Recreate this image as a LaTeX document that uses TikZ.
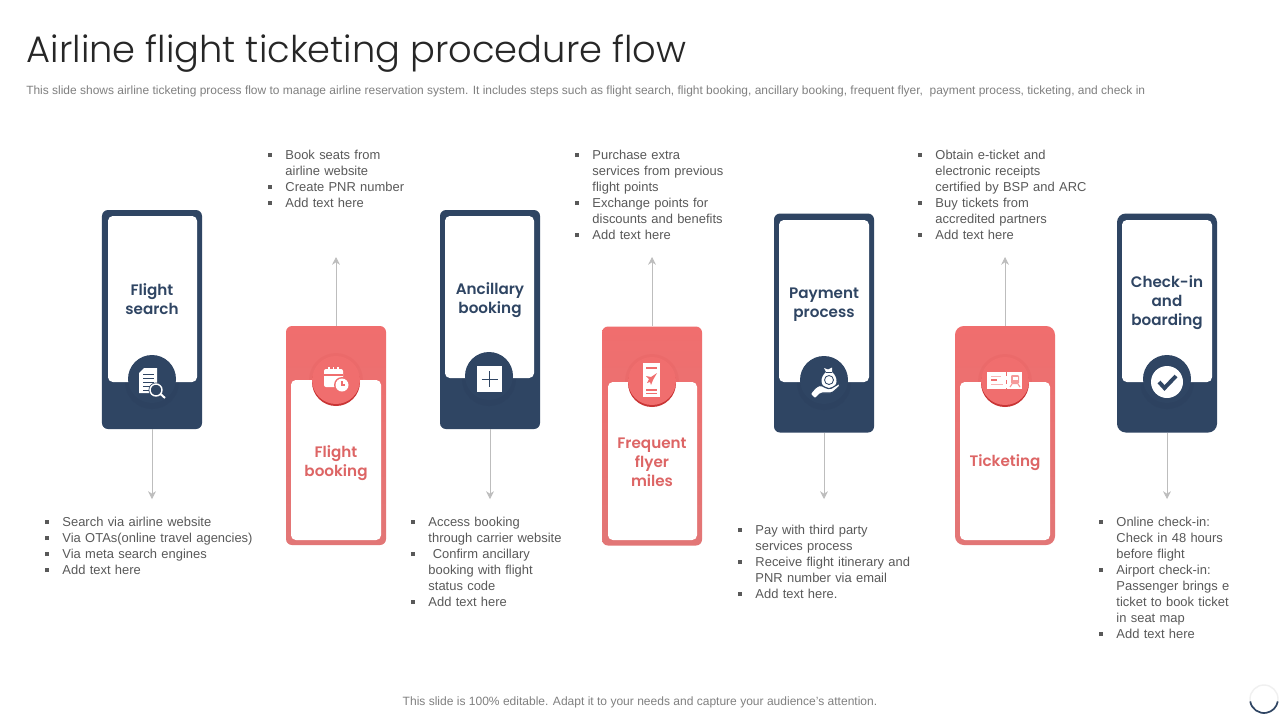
\documentclass[tikz,border=0pt]{standalone}
\usepackage{fontspec}
\setmainfont{Liberation Sans}
\newfontfamily\headfont{Poppins Light}
\newfontfamily\cardfont{Poppins SemiBold}
\usetikzlibrary{arrows.meta}
\definecolor{navy}{HTML}{2F4563}
\definecolor{navydark}{HTML}{2D4260}
\definecolor{salmon}{HTML}{F06E6E}
\definecolor{salmonlow}{HTML}{E27676}
\definecolor{salmondark}{HTML}{C93535}
\definecolor{pfeilgray}{HTML}{BDBDBD}
\definecolor{bodygray}{HTML}{595959}
\tikzset{%
		navycard/.style={rectangle,fill=navy,rounded corners=1.5mm,minimum width=25mm,minimum height=54.75mm,inner sep=0},
		redcard/.style={rectangle,top color=salmon,bottom color=salmonlow,rounded corners=1.5mm,minimum width=25mm,minimum height=54.75mm,inner sep=0},
		cardtext/.style={align=center,font=\cardfont\fontsize{10.8}{13.5}\selectfont},
		liste/.style={anchor=north west,inner sep=0,text width=60mm,text=bodygray,font=\fontsize{9.2}{11.38}\selectfont},
		pfeil/.style={draw=pfeilgray,line width=.5pt,-{Stealth[length=5.5pt,width=5.5pt]}},
		inner/.style={fill=white,rounded corners=1.2mm}
	}
\newcommand{\punkt}[1]{\par\hangindent=4.3mm\hangafter=1\noindent\hbox to 4.3mm{\raisebox{1.9pt}{\rule{2.8pt}{2.8pt}}\hfil}#1}
\newcommand{\navyshadow}[2]{\fill[navydark] (#1,#2+3) circle (27);}
\newcommand{\redshadow}[2]{\fill[salmondark,opacity=.07] (#1,#2) circle (27);}
\newcommand{\navydisc}[2]{\fill[navy] (#1,#2) circle (24);}
\newcommand{\reddisc}[2]{
		\fill[salmondark] (#1,#2+2) circle (24);
		\fill[salmon] (#1,#2) circle (24);
	}
\begin{document}
\begin{tikzpicture}[x=.25mm,y=-.25mm]
      \useasboundingbox (0,0) rectangle (1280,720);
      \fill[white] (0,0) rectangle (1280,720);

      \node[anchor=west,inner sep=0,text=black!85,font=\headfont\fontsize{26.2}{30}\selectfont] (title) at (26.5,53) {Airline flight ticketing procedure flow};
      \node[anchor=west,inner sep=0,text=black!50,font=\fontsize{8.51}{10}\selectfont] (subtitle) at (26,91.5) {This slide shows airline ticketing process flow to manage airline reservation system. It includes steps such as flight search, flight booking, ancillary booking, frequent flyer,\ \ payment process, ticketing, and check in};
      \node[inner sep=0,text=black!50,font=\fontsize{8.56}{10}\selectfont] (footer) at (640,702) {This slide is 100\% editable. Adapt it to your needs and capture your audience's attention.};

      % cards
      \node[navycard] (search) at (152,319.5) {};
      \node[redcard] (booking) at (336,435.5) {};
      \node[navycard] (ancillary) at (490,319.5) {};
      \node[redcard] (miles) at (652,436) {};
      \node[navycard] (payment) at (824,323) {};
      \node[redcard,rounded corners=2.2mm] (ticketing) at (1005,435.5) {};
      \node[navycard,rounded corners=2.2mm] (checkin) at (1167,323) {};

      \navyshadow{152}{379}
      \redshadow{336}{380}
      \navyshadow{489}{376}
      \redshadow{652}{381}
      \navyshadow{824}{380}
      \redshadow{1005}{381}
      \navyshadow{1167}{379}

      \fill[inner] (108,216) rectangle (197,382);
      \fill[inner] (291,380) rectangle (381,540);
      \fill[inner] (445,216) rectangle (534,378);
      \fill[inner] (608,382) rectangle (697,540);
      \fill[inner] (779,220) rectangle (869,382);
      \fill[inner] (960,382) rectangle (1050,540);
      \fill[inner] (1122,220) rectangle (1212,382);

      \navydisc{152}{379}
      \reddisc{336}{380}
      \navydisc{489}{376}
      \reddisc{652}{381}
      \navydisc{824}{380}
      \reddisc{1005}{381}
      \navydisc{1167}{379}

      % document and lens
      \begin{scope}[shift={(152,379)}]
        \fill[white] (-8,-11) -- (5,-11) -- (5,14) -- (-13,14) -- (-13,-6) -- cycle;
        \foreach \y in {-5,-1,3,7,11} \draw[navy,line width=.6] (-9,\y) -- (2,\y);
        \fill[navy] (4,11) circle (7.5);
        \draw[white,line width=1] (4,11) circle (6);
        \draw[white,line width=1.4] (8.5,15) -- (13,19);
      \end{scope}
      % calendar and clock
      \begin{scope}[shift={(336,379)}]
        \fill[white,rounded corners=.5mm] (-12,-10) rectangle (7,8);
        \draw[salmon,line width=.8] (-12,-4) -- (7,-4);
        \foreach \x in {-7,-2.5,2} \draw[white,line width=1.2] (\x,-12) -- (\x,-8);
        \fill[salmon] (6,6) circle (8);
        \fill[white] (6,6) circle (6.5);
        \draw[salmon,line width=.8] (6,2) -- (6,6) -- (9,6);
      \end{scope}
      % square with plus
      \begin{scope}[shift={(489.5,379)}]
        \fill[white] (-12.5,-13) rectangle (12.5,13);
        \draw[navy,line width=.7] (-8,0) -- (8,0) (0,-8) -- (0,8);
      \end{scope}
      % boarding pass
      \begin{scope}[shift={(652,380)}]
        \fill[white] (-9,-17) rectangle (8,17);
        \draw[salmon,line width=1] (-6,-12) -- (5,-12) (-6,10) -- (5,10) (-6,13.5) -- (5,13.5);
        \fill[salmon] (5,-7) -- (-1,-3) -- (-6,-4) -- (-3,-1) -- (-5,3) -- (-2,2) -- (-1,5) -- (1,0) -- cycle;
      \end{scope}
      % bag in hand
      \begin{scope}[shift={(824,380)}]
        \fill[white] (2,-8) .. controls (-4,-3) and (-5,7) .. (5,8) .. controls (15,7) and (14,-3) .. (8,-8) -- (8,-12.5) -- (4,-10.5) -- (0,-12) -- cycle;
        \draw[navy,line width=.6] (5,0) circle (4.5);
        \draw[navy,line width=.6] (2,-7.5) -- (8,-7.5);
        \filldraw[white,draw=navy,line width=.8,rounded corners=.4mm] (-14,14) -- (-8,7) -- (-3,5) -- (1,7.5) -- (6,9) -- (16,3) -- (16,6) -- (8,13) -- (-3,13) -- (-9,19) -- cycle;
      \end{scope}
      % ticket
      \begin{scope}[shift={(1005,380)}]
        \fill[white] (-18,-8.5) rectangle (17,8.5);
        \draw[salmon!50,line width=.7] (-14,-4) -- (-4,-4) (-14,4) -- (-2,4);
        \draw[salmon,line width=.9] (-14,0) -- (-8,0);
        \draw[salmon,line width=.7,dashed] (1.5,-8.5) -- (1.5,8.5);
        \fill[salmon!70,rounded corners=.3mm] (6,-5) rectangle (14,4);
        \fill[white] (7.5,-3.5) rectangle (12.5,0);
        \draw[salmon!70,line width=.8] (7,4) -- (5,7) (13,4) -- (15,7);
      \end{scope}
      % tick
      \begin{scope}[shift={(1167,382)}]
        \fill[white] (0,0) circle (16);
        \draw[navy,line width=2.8] (-8,0) -- (-2.5,6) -- (9,-6);
      \end{scope}

      % labels
      \node[cardtext,text=navy] (searchtext) at (152,299) {Flight\\search};
      \node[cardtext,text=salmon!92!black] (bookingtext) at (336,463) {Flight\\booking};
      \node[cardtext,text=navy] (ancillarytext) at (490,300) {Ancillary\\booking};
      \node[cardtext,text=salmon!92!black] (milestext) at (652,462) {Frequent\\flyer\\miles};
      \node[cardtext,text=navy] (paymenttext) at (824,305) {Payment\\process};
      \node[cardtext,text=salmon!92!black] (ticketingtext) at (1005,463) {Ticketing};
      \node[cardtext,text=navy] (checkintext) at (1167,302.5) {Check-in\\and\\boarding};

      % arrows
      \coordinate (searchend) at (152,499);
      \coordinate (bookingend) at (336,257);
      \coordinate (ancillaryend) at (490,499);
      \coordinate (milesend) at (652,257);
      \coordinate (paymentend) at (824,499);
      \coordinate (ticketingend) at (1005,257);
      \coordinate (checkinend) at (1167,499);
      \draw[pfeil] (search.south) -- (searchend);
      \draw[pfeil] (booking.north) -- (bookingend);
      \draw[pfeil] (ancillary.south) -- (ancillaryend);
      \draw[pfeil] (miles.north) -- (milesend);
      \draw[pfeil] (payment.south) -- (paymentend);
      \draw[pfeil] (ticketing.north) -- (ticketingend);
      \draw[pfeil] (checkin.south) -- (checkinend);

      % lists
      \node[liste] (searchlist) at (45,510.5) {\punkt{Search via airline website}\punkt{Via OTAs(online travel agencies)}\punkt{Via meta search engines}\punkt{Add text here}};
      \node[liste] (bookinglist) at (268,143.5) {\punkt{Book seats from\newline airline website}\punkt{Create PNR number}\punkt{Add text here}};
      \node[liste] (ancillarylist) at (411,510.5) {\punkt{Access booking\newline through carrier website}\punkt{\ Confirm ancillary\newline booking with flight\newline status code}\punkt{Add text here}};
      \node[liste] (mileslist) at (575,143.5) {\punkt{Purchase extra\newline services from previous\newline flight points}\punkt{Exchange points for\newline discounts and benefits}\punkt{Add text here}};
      \node[liste] (paymentlist) at (738,518.5) {\punkt{Pay with third party\newline services process}\punkt{Receive flight itinerary and\newline PNR number via email}\punkt{Add text here.}};
      \node[liste] (ticketinglist) at (918,143.5) {\punkt{Obtain e-ticket and\newline electronic receipts\newline certified by BSP and ARC}\punkt{Buy tickets from\newline accredited partners}\punkt{Add text here}};
      \node[liste] (checkinlist) at (1099,510.5) {\punkt{Online check-in:\newline Check in 48 hours\newline before flight}\punkt{Airport check-in:\newline Passenger brings e\newline ticket to book ticket\newline in seat map}\punkt{Add text here}};

      % loader
      \draw[black!6,line width=1] (1264,699) circle (14);
      \draw[navy,line width=1.2] (1264,699) ++(170:14) arc (170:10:14);
\end{tikzpicture}
\end{document}
